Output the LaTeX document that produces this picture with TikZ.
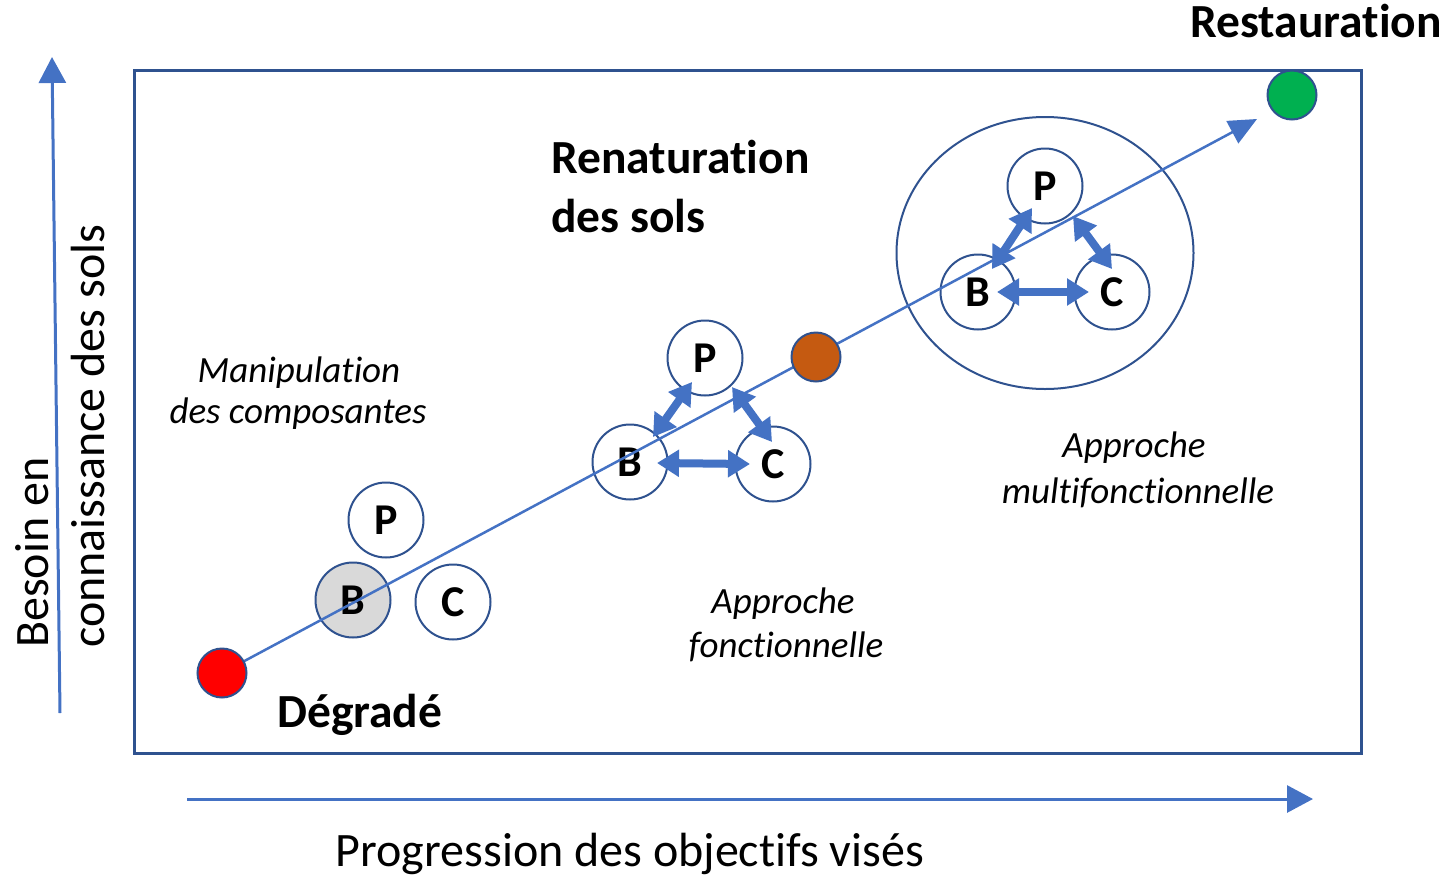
\documentclass[tikz,border=0pt]{standalone}
\usepackage{fontspec}
\setmainfont{Carlito}[Ligatures={NoCommon,NoContextual}]
\usetikzlibrary{arrows.meta,shapes.geometric}
\definecolor{frameblue}{HTML}{2F528F}
\definecolor{accent}{HTML}{4472C4}
\definecolor{greyfill}{HTML}{D9D9D9}
\definecolor{orangedot}{HTML}{C55A11}
\definecolor{greendot}{HTML}{00B050}
\begin{document}
\begin{tikzpicture}[x=1pt,y=-1pt,
  comp/.style={circle,draw=frameblue,line width=2pt,minimum size=75pt,inner sep=0pt,fill=white,font=\fontsize{44}{50}\selectfont\bfseries},
  dot/.style={circle,draw=frameblue,line width=2pt,minimum size=49pt,inner sep=0pt},
  link/.style={accent,line width=8pt,{Triangle[length=22pt,width=26pt]}-{Triangle[length=22pt,width=26pt]}},
  axis/.style={accent,line width=3pt,-{Triangle[length=26pt,width=27pt]}},
  diag/.style={accent,line width=2.5pt,-{Triangle[length=28pt,width=25pt]}},
  boldlbl/.style={inner sep=0pt,font=\fontsize{47.5}{57}\selectfont\bfseries},
  itlbl/.style={inner sep=0pt,font=\fontsize{37}{44}\selectfont\itshape,anchor=base},
  axlbl/.style={inner sep=0pt,font=\fontsize{48}{57}\selectfont}]
\useasboundingbox (0,0) rectangle (1444,876);
% frame
\node[draw=frameblue,line width=2.5pt,minimum width=1227pt,minimum height=683pt,anchor=north west,inner sep=0pt] (frame) at (133,69) {};
% axes
\coordinate (vbot) at (60,713);
\coordinate (vtop) at (52,57);
\draw[axis] (vbot) -- (vtop);
\coordinate (hl) at (187,799);
\coordinate (hr) at (1313,799);
\draw[axis] (hl) -- (hr);
% big ellipse
\node[ellipse,draw=frameblue,line width=2pt,minimum width=297pt,minimum height=272pt,inner sep=0pt] (big) at (1045,253) {};
% group 1
\node[comp] (P1) at (386,520) {P};
\node[comp,fill=greyfill] (B1) at (353,600) {B};
\node[comp] (C1) at (453,602) {C};
% group 2
\node[comp] (P2) at (705,358) {P};
\node[comp] (B2) at (630,462) {B};
\node[comp] (C2) at (773,464) {C};
% group 3
\node[comp] (P3) at (1045,186) {P};
\node[comp] (B3) at (978,292) {B};
\node[comp] (C3) at (1112,292) {C};
% links group 2
\draw[link] ([shift={(23,-25)}]B2.center) -- ([shift={(-13,24)}]P2.center);
\draw[link] ([shift={(27,29)}]P2.center) -- ([shift={(-1,-22)}]C2.center);
\draw[link] ([shift={(27,1)}]B2.center) -- ([shift={(-23,0)}]C2.center);
% links group 3
\draw[link] ([shift={(14,-23)}]B3.center) -- ([shift={(-13,22)}]P3.center);
\draw[link] ([shift={(28,30)}]P3.center) -- ([shift={(0,-23)}]C3.center);
\draw[link] ([shift={(19,0)}]B3.center) -- ([shift={(-23,0)}]C3.center);
% diagonal progression line
\coordinate (dstart) at (222,673);
\coordinate (dtip) at (1257,119);
\draw[diag] (dstart) -- (dtip);
% state dots
\node[dot,fill=red] (deg) at (222,673) {};
\node[dot,fill=orangedot] (mid) at (816,357) {};
\node[dot,fill=greendot] (rest) at (1292,95) {};
% labels
\node[boldlbl,anchor=base east] (restau) at (1442,37) {Restauration};
\node[boldlbl,anchor=base west] (renat1) at (551,173) {Renaturation};
\node[boldlbl,anchor=base west] (renat2) at (551,232) {des sols};
\node[boldlbl,anchor=base west] (degr) at (277,727) {Dégradé};
\node[itlbl] (manip1) at (299,382) {Manipulation};
\node[itlbl] (manip2) at (298,423) {des composantes};
\node[itlbl] (af1) at (783,613) {Approche};
\node[itlbl] (af2) at (786,657) {fonctionnelle};
\node[itlbl] (am1) at (1134,457) {Approche};
\node[itlbl] (am2) at (1138,503) {multifonctionnelle};
\node[axlbl,anchor=base] (prog) at (630,866) {Progression des objectifs visés};
\node[axlbl,rotate=90,anchor=base west] (bes1) at (48,648) {Besoin en};
\node[axlbl,rotate=90,anchor=base west] (bes2) at (104,648) {connaissance des sols};
\end{tikzpicture}
\end{document}
